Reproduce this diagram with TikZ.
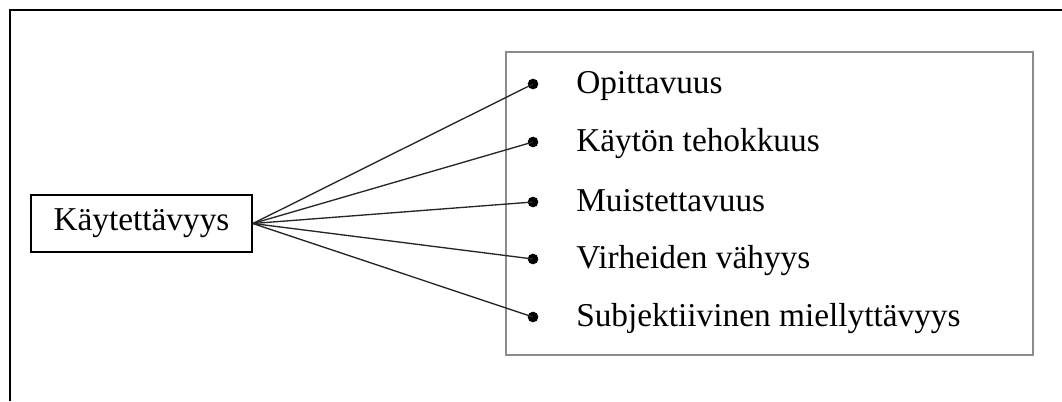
\documentclass[tikz,border=0pt]{standalone}
\usepackage{fontspec}
\setmainfont{Liberation Serif}
\begin{document}
\begin{tikzpicture}[x=0.75pt,y=-0.75pt,
  lbl/.style={anchor=base west,inner sep=0pt,font=\fontsize{25}{30}\selectfont},
  dotn/.style={circle,fill=black,inner sep=0pt,minimum size=8pt},
  link/.style={line width=1pt,black!85}]
\useasboundingbox (0,0) rectangle (1062,401);
% outer frame (top and left only)
\draw[line width=1.8pt] (10,401) -- (10,10) -- (1062,10);
% grey list box
\node[draw=black!45,line width=1.3pt,minimum width=527*0.75pt,minimum height=303*0.75pt,inner sep=0pt] (list) at (769.5,203.5) {};
% source box
\node[draw=black,line width=1.3pt,minimum width=221*0.75pt,minimum height=57*0.75pt,inner sep=0pt,font=\fontsize{25}{30}\selectfont] (src) at (141.5,223.5) {Käytettävyys};
% bullets
\node[dotn] (b1) at (533,84) {};
\node[dotn] (b2) at (533,142) {};
\node[dotn] (b3) at (533,202) {};
\node[dotn] (b4) at (533,259) {};
\node[dotn] (b5) at (533,317) {};
% labels
\node[lbl] (t1) at (576,93) {Opittavuus};
\node[lbl] (t2) at (576,151) {Käytön tehokkuus};
\node[lbl] (t3) at (576,211) {Muistettavuus};
\node[lbl] (t4) at (576,268) {Virheiden vähyys};
\node[lbl] (t5) at (576,326) {Subjektiivinen miellyttävyys};
% connectors
\foreach \i in {1,...,5} \draw[link] (src.east) -- (b\i.center);
\end{tikzpicture}
\end{document}
